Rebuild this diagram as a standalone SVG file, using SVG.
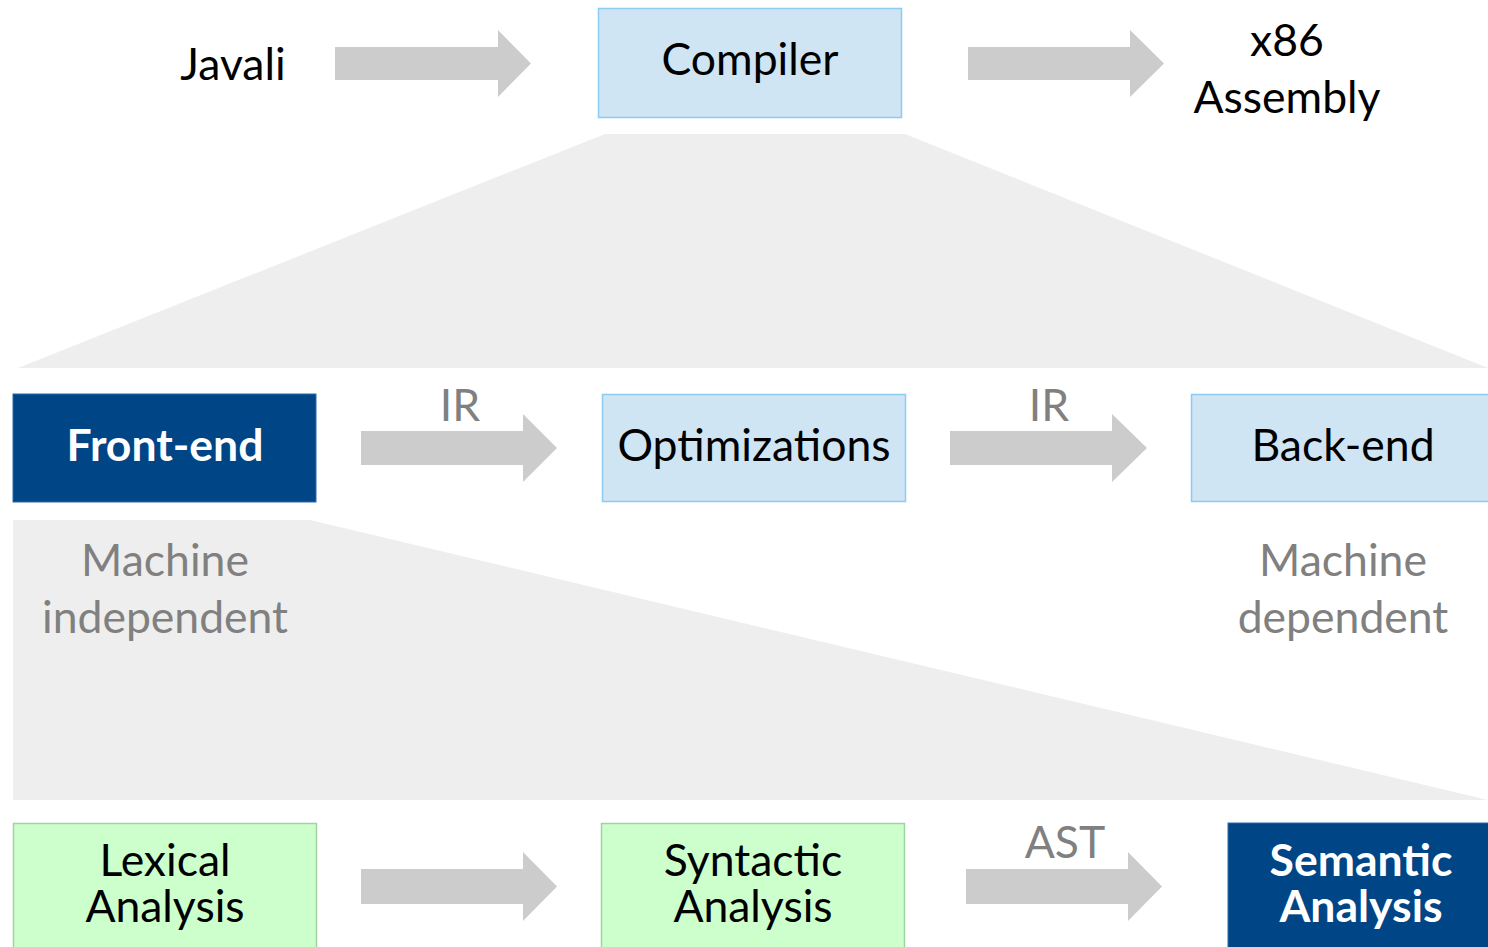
<svg xmlns="http://www.w3.org/2000/svg" width="1488" height="947" viewBox="0 0 1488 947">
<defs>
<style>
text{font-family:Lato,"Open Sans","Liberation Sans",sans-serif;text-anchor:middle;font-size:44.5px;fill:#000}
.blue{fill:#cfe5f4;stroke:#8ccbf2;stroke-width:1.5}
.dark{fill:#004586;stroke:#2a6aa8;stroke-width:1}
.green{fill:#ccffcc;stroke:#9fd39f;stroke-width:1.5}
.w{fill:#fff;font-weight:bold}
.g{fill:#808080}
.arrow{fill:#cccccc}
.fan{fill:#eeeeee}
</style>
</defs>
<rect width="1488" height="947" fill="#fff"/>
<g id="fans">
<polygon class="fan" points="605,134 905,134 1488,368 18,368"/>
<polygon class="fan" points="13,520 310,520 1488,800 13,800"/>
</g>
<g id="connectors">
<polygon class="arrow" points="335,47 498,47 498,30 531,63.5 498,97 498,80 335,80"/>
<polygon class="arrow" points="968,47 1130,47 1130,30 1164,63.5 1130,97 1130,80 968,80"/>
<polygon class="arrow" points="361,431 523,431 523,414 557,448 523,482 523,465 361,465"/>
<text class="g" x="460" y="421">IR</text>
<polygon class="arrow" points="950,431 1112,431 1112,414 1147,448 1112,482 1112,465 950,465"/>
<text class="g" x="1049" y="421">IR</text>
<polygon class="arrow" points="361,869 523,869 523,852 557,886.5 523,921 523,904 361,904"/>
<polygon class="arrow" points="966,869 1128,869 1128,852 1162,886.5 1128,921 1128,904 966,904"/>
<text class="g" x="1065" y="858">AST</text>
</g>
<g id="javali"><text x="233" y="80">Javali</text></g>
<g id="compiler"><rect class="blue" x="598.5" y="8.5" width="303" height="109"/><text x="750" y="75">Compiler</text></g>
<g id="x86"><text x="1287" y="56">x86</text><text x="1287" y="113">Assembly</text></g>
<g id="frontend"><rect class="dark" x="13" y="394" width="303" height="108"/><text class="w" x="165" y="461">Front-end</text></g>
<g id="optimizations"><rect class="blue" x="602.5" y="394.5" width="303" height="107"/><text x="754" y="461">Optimizations</text></g>
<g id="backend"><rect class="blue" x="1191.5" y="394.5" width="310" height="107"/><text x="1343" y="461">Back-end</text></g>
<g id="machine-independent"><text class="g" x="165" y="576">Machine</text><text class="g" x="165" y="633">independent</text></g>
<g id="machine-dependent"><text class="g" x="1343" y="576">Machine</text><text class="g" x="1343" y="633">dependent</text></g>
<g id="lexical"><rect class="green" x="13.5" y="823.5" width="303" height="140"/><text x="165" y="876">Lexical</text><text x="165" y="922">Analysis</text></g>
<g id="syntactic"><rect class="green" x="601.5" y="823.5" width="303" height="140"/><text x="753" y="876">Syntactic</text><text x="753" y="922">Analysis</text></g>
<g id="semantic"><rect class="dark" x="1228" y="823" width="270" height="140"/><text class="w" x="1361" y="876">Semantic</text><text class="w" x="1361" y="922">Analysis</text></g>
</svg>
